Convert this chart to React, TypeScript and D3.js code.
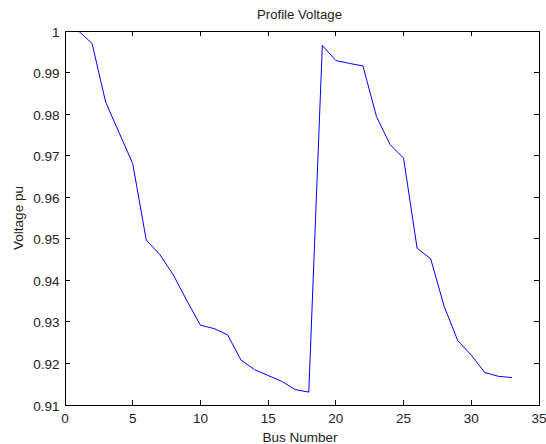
import React from "react";
import * as d3 from "d3";

const busNumbers = Array.from({ length: 33 }, (_, i) => i + 1);
const voltages = [
  1.0, 0.997, 0.9829, 0.9755, 0.9681, 0.9497, 0.9462, 0.9413, 0.9351, 0.9292,
  0.9284, 0.9269, 0.9208, 0.9185, 0.9171, 0.9157, 0.9137, 0.9131, 0.9965, 0.9929,
  0.9922, 0.9916, 0.9794, 0.9727, 0.9694, 0.9477, 0.9452, 0.9337, 0.9255, 0.922,
  0.9178, 0.9169, 0.9166,
];
const xTicks = [0, 5, 10, 15, 20, 25, 30, 35];
const yTicks = [0.91, 0.92, 0.93, 0.94, 0.95, 0.96, 0.97, 0.98, 0.99, 1];

export default function App() {
  const W = 546, H = 444;
  const left = 65, right = 539, top = 31, bottom = 405;
  const x = d3.scaleLinear().domain([0, 35]).range([left, right]);
  const y = d3.scaleLinear().domain([0.91, 1]).range([bottom, top]);
  const line = d3
    .line<number>()
    .x((_, i) => x(busNumbers[i]))
    .y((d) => y(d));
  const font = "'Liberation Sans', Arial, sans-serif";
  const tl = 5;
  const fs = 13.5;
  return (
    <svg
      width={W}
      height={H}
      style={{ position: "absolute", left: 0, top: 0, background: "#fff" }}
      fontFamily={font}
    >
      <rect x={0} y={0} width={W} height={H} fill="#fff" />
      <defs>
        <clipPath id="plotclip">
          <rect x={left} y={top} width={right - left} height={bottom - top} />
        </clipPath>
      </defs>
      <path
        d={line(voltages) || ""}
        fill="none"
        stroke="#0000ff"
        strokeWidth={1}
        clipPath="url(#plotclip)"
      />
      <rect
        x={left}
        y={top}
        width={right - left}
        height={bottom - top}
        fill="none"
        stroke="#000"
        strokeWidth={1}
        shapeRendering="crispEdges"
      />
      {xTicks.map((t) => (
        <g key={"x" + t} shapeRendering="crispEdges">
          <line x1={x(t)} x2={x(t)} y1={bottom} y2={bottom - tl} stroke="#000" />
          <line x1={x(t)} x2={x(t)} y1={top} y2={top + tl} stroke="#000" />
          <text x={x(t)} y={422.5} fontSize={fs} textAnchor="middle" fill="#222">
            {t}
          </text>
        </g>
      ))}
      {yTicks.map((t) => (
        <g key={"y" + t} shapeRendering="crispEdges">
          <line x1={left} x2={left + tl} y1={y(t)} y2={y(t)} stroke="#000" />
          <line x1={right} x2={right - tl} y1={y(t)} y2={y(t)} stroke="#000" />
          <text
            x={left - 5.5}
            y={y(t) + 5.5}
            fontSize={fs}
            textAnchor="end"
            fill="#222"
          >
            {d3.format("")(+t.toFixed(2))}
          </text>
        </g>
      ))}
      <text x={299.5} y={19} fontSize={13.2} textAnchor="middle" fill="#222">
        Profile Voltage
      </text>
      <text x={300} y={441.5} fontSize={fs} textAnchor="middle" fill="#222">
        Bus Number
      </text>
      <text
        transform={`translate(22.5,${(top + bottom) / 2}) rotate(-90)`}
        fontSize={fs}
        textAnchor="middle"
        fill="#222"
      >
        Voltage pu
      </text>
    </svg>
  );
}
